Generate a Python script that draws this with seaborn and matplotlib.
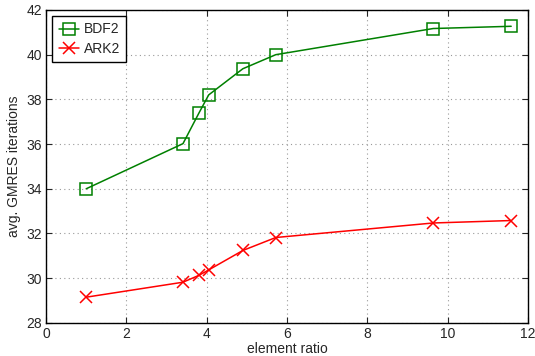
import matplotlib
matplotlib.use("Agg")
import matplotlib.pyplot as plt
import seaborn as sns
import pandas as pd

ratio = [1.0, 3.41, 3.81, 4.05, 4.9, 5.72, 9.64, 11.58]
bdf2 = [34.0, 36.02, 37.4, 38.2, 39.37, 40.0, 41.17, 41.27]
ark2 = [29.15, 29.82, 30.13, 30.37, 31.24, 31.82, 32.47, 32.58]
series_names = ["BDF2", "ARK2"]

df = pd.DataFrame({
    "ratio": ratio * 2,
    "iters": bdf2 + ark2,
    "method": [series_names[0]] * len(ratio) + [series_names[1]] * len(ratio),
})

sns.set_style("ticks")
plt.rcParams["font.family"] = ["Liberation Sans", "DejaVu Sans"]

fig = plt.figure(figsize=(5.35, 3.56), dpi=100)
ax = fig.add_axes([0.086, 0.093, 0.901, 0.879])

palette = {"BDF2": "#008000", "ARK2": "#ff0000"}
markers = {"BDF2": "s", "ARK2": "x"}
for name in series_names:
    sub = df[df["method"] == name]
    sns.lineplot(data=sub, x="ratio", y="iters", ax=ax, color=palette[name],
                 marker=markers[name], markersize=8.5, linewidth=1.1,
                 markerfacecolor="none" if name == "BDF2" else palette[name],
                 markeredgecolor=palette[name], markeredgewidth=1.1,
                 label=name, sort=False)

ax.set_xlim(0, 12)
ax.set_ylim(28, 42)
ax.set_xticks(range(0, 13, 2))
ax.set_yticks(range(28, 43, 2))
ax.grid(True, linestyle=(0, (1, 3)), color="#999999", linewidth=0.8)
for s in ax.spines.values():
    s.set_visible(True)
    s.set_linewidth(1.0)
    s.set_color("black")
ax.tick_params(direction="in", length=4, width=0.8, labelsize=10, top=True, right=True,
               labeltop=False, labelright=False, pad=3)
ax.set_xlabel("element ratio", fontsize=10, labelpad=1)
ax.set_ylabel("avg. GMRES iterations", fontsize=10, labelpad=4)

leg = ax.legend(loc="upper left", fontsize=10, frameon=True, fancybox=False,
                edgecolor="black", framealpha=1, handlelength=1.45,
                borderpad=0.45, labelspacing=0.4, handletextpad=0.35,
                borderaxespad=0.45)
leg.get_frame().set_linewidth(1.0)

fig.savefig("out.png", dpi=100)
